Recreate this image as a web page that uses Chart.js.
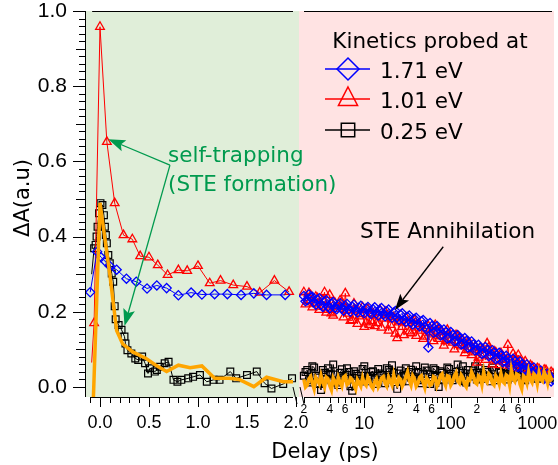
<!DOCTYPE html>
<html>
<head>
<meta charset="utf-8">
<script src="https://cdn.jsdelivr.net/npm/chart.js@4/dist/chart.umd.min.js"></script>
<style>
  html, body { margin: 0; padding: 0; background: #fff; }
  #wrap { position: relative; width: 558px; height: 465px; }
  #wrap canvas { position: absolute; left: 0; top: 0; }
  #graficoCurto { z-index: 2; }
</style>
</head>
<body>
<div id="wrap">
  <canvas id="graficoLongo" width="558" height="465"></canvas>
  <canvas id="graficoCurto" width="558" height="465"></canvas>
</div>
<script>
// 1. DADOS
// Trecho linear (-0.1 a 2 ps)
const atrasoAzulCurto = [-0.10, -0.03, 0.01, 0.05, 0.10, 0.17, 0.27, 0.37, 0.48, 0.58, 0.68, 0.80, 0.93, 1.04, 1.17, 1.30, 1.44, 1.57, 1.70, 1.89];
const azulCurto = [0.252, 0.36, 0.345, 0.335, 0.322, 0.312, 0.288, 0.28, 0.262, 0.27, 0.263, 0.244, 0.251, 0.246, 0.247, 0.247, 0.245, 0.249, 0.245, 0.245];

const atrasoVermelhoCurto = [-0.085, -0.06, 0.00, 0.07, 0.15, 0.24, 0.33, 0.41, 0.50, 0.59, 0.69, 0.80, 0.89, 1.00, 1.12, 1.23, 1.36, 1.50, 1.63, 1.78, 1.93];
const vermelhoCurto = [0.065, 0.17, 0.958, 0.652, 0.489, 0.404, 0.393, 0.348, 0.345, 0.324, 0.298, 0.311, 0.309, 0.322, 0.276, 0.283, 0.271, 0.267, 0.251, 0.283, 0.253];

const atrasoPretoCurto = [-0.085, -0.06, -0.045, -0.035, -0.025, -0.01, 0.005, 0.025, 0.04, 0.05,
  0.06, 0.07, 0.085, 0.10, 0.12, 0.135, 0.15, 0.16, 0.19, 0.22,
  0.25, 0.26, 0.28, 0.32, 0.36, 0.39, 0.43, 0.46, 0.49, 0.51,
  0.56, 0.58, 0.61, 0.66, 0.70, 0.75, 0.79, 0.83, 0.90, 0.95,
  1.02, 1.09, 1.16, 1.22, 1.33, 1.39, 1.50, 1.60, 1.68, 1.75,
  1.87, 1.96];
const pretoCurto = [0.30, 0.369, 0.378, 0.40, 0.426, 0.462, 0.489, 0.484, 0.457, 0.426,
  0.404, 0.382, 0.351, 0.329, 0.302, 0.280, 0.215, 0.180, 0.165, 0.152,
  0.134, 0.116, 0.098, 0.089, 0.076, 0.072, 0.081, 0.063, 0.036, 0.050,
  0.041, 0.045, 0.054, 0.063, 0.067, 0.019, 0.014, 0.019, 0.023, 0.027,
  0.032, 0.014, 0.019, 0.019, 0.041, 0.023, 0.032, 0.041, 0.010, -0.004,
  0.008, 0.023];

const atrasoLaranjaCurto = [-0.07, 0.00, 0.10, 0.17, 0.23, 0.33, 0.47, 0.57, 0.68, 0.80, 0.92, 1.04, 1.17, 1.32, 1.42, 1.57, 1.70, 1.87, 1.97];
const laranjaCurto = [-0.05, 0.49, 0.30, 0.15, 0.115, 0.094, 0.076, 0.058, 0.041, 0.058, 0.051, 0.056, 0.023, 0.023, 0.020, 0.001, 0.026, 0.014, 0.014];

// Trecho logarítmico (2 a 1500 ps), em duas varreduras de atrasos
const atrasoLongoA = [2.0, 2.19, 2.4, 2.63, 2.88, 3.16, 3.47, 3.8, 4.17, 4.57,
  5.01, 5.5, 6.03, 6.61, 7.24, 7.94, 8.71, 9.55, 10.5, 11.5,
  12.6, 13.8, 15.1, 16.6, 18.2, 20.0, 21.9, 24.0, 26.3, 28.8,
  31.6, 34.7, 38.0, 41.7, 45.7, 50.1, 55.0, 60.3, 66.1, 72.4,
  79.4, 87.1, 95.5, 105, 115, 126, 138, 151, 166, 182,
  200, 219, 240, 263, 288, 316, 347, 380, 417, 457,
  501, 550, 603, 661, 724, 794, 871, 955, 1047, 1148,
  1259, 1380, 1514];
const azulLongoA = [0.242, 0.231, 0.238, 0.226, 0.232, 0.219, 0.227, 0.214, 0.222, 0.211,
  0.219, 0.209, 0.216, 0.206, 0.214, 0.203, 0.211, 0.200, 0.209, 0.198,
  0.207, 0.196, 0.204, 0.193, 0.201, 0.190, 0.198, 0.185, 0.192, 0.179,
  0.186, 0.172, 0.181, 0.166, 0.175, 0.160, 0.105, 0.162, 0.148, 0.154,
  0.140, 0.146, 0.131, 0.138, 0.123, 0.130, 0.115, 0.122, 0.107, 0.113,
  0.099, 0.105, 0.091, 0.098, 0.085, 0.091, 0.077, 0.083, 0.069, 0.075,
  0.061, 0.068, 0.054, 0.060, 0.046, 0.052, 0.038, 0.044, 0.030, 0.036,
  0.024, 0.028, 0.020];
const vermelhoLongoA = [0.252, 0.228, 0.244, 0.222, 0.236, 0.214, 0.252, 0.205, 0.196, 0.224,
  0.208, 0.226, 0.249, 0.195, 0.178, 0.204, 0.188, 0.212, 0.172, 0.165,
  0.196, 0.170, 0.205, 0.182, 0.192, 0.165, 0.186, 0.130, 0.176, 0.138,
  0.170, 0.143, 0.178, 0.158, 0.150, 0.134, 0.162, 0.140, 0.165, 0.128,
  0.147, 0.122, 0.140, 0.118, 0.138, 0.112, 0.125, 0.098, 0.116, 0.092,
  0.065, 0.104, 0.085, 0.116, 0.082, 0.095, 0.070, 0.090, 0.066, 0.112,
  0.062, 0.078, 0.085, 0.055, 0.068, 0.045, 0.054, 0.040, 0.048, 0.036,
  0.045, 0.032, 0.036];
const pretoLongoA = [0.030, 0.045, 0.012, 0.052, 0.025, -0.008, 0.038, 0.050, 0.018, 0.033,
  0.005, 0.047, 0.028, 0.040, -0.010, 0.035, 0.022, 0.048, 0.015, 0.030,
  0.042, 0.008, 0.036, 0.025, 0.050, 0.020, 0.038, -0.005, 0.044, 0.030,
  0.015, 0.046, 0.026, 0.040, 0.010, 0.052, 0.034, 0.022, 0.045, 0.000,
  0.038, 0.028, 0.048, 0.018, 0.040, 0.030, 0.055, 0.012, 0.036, 0.044,
  0.020, 0.050, 0.030, 0.040, 0.015, 0.045, 0.025, 0.038, 0.048, 0.020,
  0.034, 0.042, 0.028, 0.050, 0.018, 0.035, 0.040, 0.030, 0.025, 0.038,
  0.030, 0.022, 0.028];
const laranjaLongoA = [0.020, 0.005, 0.028, -0.005, 0.018, 0.030, 0.000, 0.022, -0.008, 0.015,
  0.025, 0.002, 0.030, 0.010, 0.020, -0.006, 0.012, 0.025, 0.004, 0.018,
  -0.004, 0.022, 0.008, 0.028, 0.002, 0.015, 0.032, 0.006, 0.020, 0.012,
  0.040, 0.005, 0.022, 0.010, 0.030, -0.002, 0.018, 0.008, 0.025, 0.012,
  0.035, 0.004, 0.028, 0.014, 0.038, 0.010, 0.025, 0.000, 0.018, 0.030,
  0.008, 0.026, 0.040, 0.012, 0.030, 0.005, 0.022, 0.036, 0.010, 0.028,
  0.045, 0.015, 0.032, -0.005, 0.025, 0.040, 0.012, 0.030, 0.038, 0.015,
  0.028, 0.035, 0.025];

const atrasoLongoB = [2.09, 2.29, 2.51, 2.75, 3.02, 3.31, 3.63, 3.98, 4.37, 4.79,
  5.25, 5.75, 6.31, 6.92, 7.59, 8.32, 9.12, 10.0, 11.0, 12.0,
  13.2, 14.5, 15.8, 17.4, 19.1, 20.9, 22.9, 25.1, 27.5, 30.2,
  33.1, 36.3, 39.8, 43.7, 47.9, 52.5, 57.5, 63.1, 69.2, 75.9,
  83.2, 91.2, 100, 110, 120, 132, 145, 158, 174, 191,
  209, 229, 251, 275, 302, 331, 363, 398, 437, 479,
  525, 575, 631, 692, 759, 832, 912, 1000, 1096, 1202,
  1318, 1445];
const azulLongoB = [0.228, 0.246, 0.240, 0.219, 0.236, 0.213, 0.231, 0.209, 0.226, 0.207,
  0.223, 0.203, 0.221, 0.200, 0.219, 0.198, 0.216, 0.196, 0.213, 0.194,
  0.212, 0.190, 0.210, 0.188, 0.206, 0.184, 0.202, 0.178, 0.196, 0.173,
  0.190, 0.166, 0.184, 0.161, 0.178, 0.153, 0.170, 0.144, 0.162, 0.137,
  0.153, 0.129, 0.146, 0.121, 0.138, 0.113, 0.130, 0.105, 0.121, 0.097,
  0.112, 0.088, 0.106, 0.082, 0.098, 0.074, 0.091, 0.066, 0.083, 0.058,
  0.075, 0.051, 0.068, 0.046, 0.060, 0.037, 0.052, 0.029, 0.044, 0.022,
  0.035, 0.015];
const vermelhoLongoB = [0.220, 0.250, 0.212, 0.240, 0.205, 0.232, 0.198, 0.245, 0.190, 0.214,
  0.230, 0.185, 0.205, 0.176, 0.222, 0.168, 0.194, 0.160, 0.208, 0.175,
  0.162, 0.190, 0.158, 0.200, 0.150, 0.180, 0.142, 0.172, 0.160, 0.185,
  0.148, 0.176, 0.136, 0.168, 0.128, 0.155, 0.145, 0.122, 0.150, 0.135,
  0.110, 0.152, 0.125, 0.100, 0.135, 0.108, 0.090, 0.120, 0.085, 0.108,
  0.078, 0.100, 0.072, 0.105, 0.060, 0.092, 0.058, 0.082, 0.072, 0.056,
  0.088, 0.050, 0.070, 0.062, 0.042, 0.058, 0.035, 0.050, 0.030, 0.046,
  0.028, 0.040];
const pretoLongoB = [0.040, 0.018, 0.055, 0.030, 0.008, 0.045, 0.022, 0.035, 0.060, 0.012,
  0.038, 0.025, 0.050, 0.002, 0.042, 0.030, 0.015, 0.055, 0.028, 0.040,
  0.020, 0.048, 0.032, 0.010, 0.045, 0.058, 0.022, 0.036, 0.015, 0.050,
  0.040, 0.028, 0.055, 0.018, 0.035, 0.044, 0.008, 0.050, 0.030, 0.042,
  0.020, 0.052, 0.035, 0.025, 0.060, 0.030, 0.015, 0.045, 0.028, 0.055,
  0.038, 0.022, 0.045, 0.030, 0.052, 0.018, 0.040, 0.028, 0.035, 0.046,
  0.025, 0.050, 0.032, 0.020, 0.045, 0.030, 0.038, 0.022, 0.042, 0.030,
  0.035, 0.025];
const laranjaLongoB = [0.000, 0.022, 0.010, 0.025, 0.008, 0.012, 0.026, 0.004, 0.024, 0.002,
  0.012, 0.026, 0.006, 0.024, 0.004, 0.020, 0.002, 0.010, 0.026, 0.003,
  0.015, 0.000, 0.024, 0.010, 0.026, 0.005, 0.012, 0.025, 0.002, 0.028,
  0.018, 0.030, 0.002, 0.026, 0.012, 0.024, 0.004, 0.028, 0.002, 0.030,
  0.015, 0.030, 0.005, 0.030, 0.016, 0.032, 0.006, 0.022, 0.040, 0.012,
  0.030, 0.006, 0.018, 0.035, 0.010, 0.030, 0.008, 0.015, 0.032, 0.005,
  0.022, 0.035, 0.008, 0.030, 0.010, 0.020, 0.035, 0.008, 0.020, 0.040,
  0.010, 0.020];

// Eixos
const ticksY = [0, 0.2, 0.4, 0.6, 0.8, 1.0];
const ticksXCurto = [0, 0.5, 1.0, 1.5, 2.0];
const ticksXLongo = [2, 4, 6, 10, 20, 40, 60, 100, 200, 400, 600, 1000];
const decadas = [10, 100, 1000];

const tituloLegenda = 'Kinetics probed at';
const rotulosSeries = ['1.71 eV', '1.01 eV', '0.25 eV'];

const pares = (xs, ys) => xs.map((x, i) => ({ x: x, y: ys[i] }));
// junta as duas varreduras em ordem de atraso
const juntar = (xa, ya, xb, yb) => pares(xa, ya).concat(pares(xb, yb)).sort((p, q) => p.x - q.x);

const AZUL = '#0000ff', VERMELHO = '#ff0000', PRETO = '#000000', LARANJA = '#ffa500', VERDE = '#009a4e';
const FONTE_TEXTO = '"DejaVu Sans", sans-serif';

Chart.defaults.font.family = '"Liberation Sans", Arial, sans-serif';
Chart.defaults.color = '#000';

function seta(ctx, x0, y0, x1, y1, cor, comp, larg) {
    const ang = Math.atan2(y1 - y0, x1 - x0);
    const c = Math.cos(ang), s = Math.sin(ang);
    ctx.strokeStyle = cor;
    ctx.fillStyle = cor;
    ctx.lineWidth = 1.3;
    ctx.beginPath();
    ctx.moveTo(x0, y0);
    ctx.lineTo(x1 - c * comp * 0.8, y1 - s * comp * 0.8);
    ctx.stroke();
    ctx.beginPath();
    ctx.moveTo(x1, y1);
    ctx.lineTo(x1 - comp * c + larg * s, y1 - comp * s - larg * c);
    ctx.lineTo(x1 - comp * c * 0.8, y1 - comp * s * 0.8);
    ctx.lineTo(x1 - comp * c - larg * s, y1 - comp * s + larg * c);
    ctx.closePath();
    ctx.fill();
}

function marcador(ctx, tipo, cx, cy, r) {
    ctx.beginPath();
    if (tipo === 'losango') {
        ctx.moveTo(cx - r, cy); ctx.lineTo(cx, cy - r); ctx.lineTo(cx + r, cy); ctx.lineTo(cx, cy + r);
        ctx.closePath();
    } else if (tipo === 'triangulo') {
        ctx.moveTo(cx, cy - r); ctx.lineTo(cx + r * 0.87, cy + r * 0.5 + 2); ctx.lineTo(cx - r * 0.87, cy + r * 0.5 + 2);
        ctx.closePath();
    } else {
        ctx.rect(cx - r, cy - r, 2 * r, 2 * r);
    }
    ctx.stroke();
}

// 2. DECORAÇÃO (fundo, eixos estilo Igor, anotações)
const decoracaoCurto = {
    id: 'decoracaoCurto',
    beforeDraw(chart) {
        const { ctx, chartArea: a } = chart;
        ctx.save();
        ctx.fillStyle = '#e0eed9';
        ctx.fillRect(a.left, a.top, a.right - a.left, a.bottom - a.top);
        ctx.restore();
    },
    afterDraw(chart) {
        const { ctx, chartArea: a, scales: { x, y } } = chart;
        ctx.save();
        ctx.strokeStyle = '#000';
        ctx.lineWidth = 1;
        ctx.beginPath();
        ctx.moveTo(a.left + 0.5, a.top);
        ctx.lineTo(a.left + 0.5, a.bottom);
        for (let i = 0; i <= 50; i++) {
            const py = Math.round(y.getPixelForValue(i / 50)) + 0.5;
            const tam = i % 10 === 0 ? 12 : (i % 5 === 0 ? 9 : 6);
            ctx.moveTo(a.left, py);
            ctx.lineTo(a.left - tam, py);
        }
        const xIni = x.getPixelForValue(-0.1);
        const xFim = a.right - 6;
        ctx.moveTo(xIni, a.bottom + 0.5); ctx.lineTo(xFim, a.bottom + 0.5);
        ctx.moveTo(x.getPixelForValue(-0.08), a.top + 0.5); ctx.lineTo(xFim, a.top + 0.5);
        for (let i = -1; i <= 20; i++) {
            const px = Math.round(x.getPixelForValue(i / 10)) + 0.5;
            const tam = i % 5 === 0 ? 10 : 6;
            ctx.moveTo(px, a.bottom); ctx.lineTo(px, a.bottom + tam);
        }
        // marcas de quebra do eixo
        ctx.moveTo(a.right - 6, a.bottom - 10); ctx.lineTo(a.right - 2, a.bottom + 7);
        ctx.moveTo(a.right + 1, a.bottom - 10); ctx.lineTo(a.right + 5, a.bottom + 7);
        ctx.stroke();

        // setas verdes
        const ox = x.getPixelForValue(0.714), oy = y.getPixelForValue(0.590);
        seta(ctx, ox, oy, x.getPixelForValue(0.085), y.getPixelForValue(0.659), VERDE, 17, 6);
        seta(ctx, ox, oy, x.getPixelForValue(0.25), y.getPixelForValue(0.162), VERDE, 17, 6);

        ctx.fillStyle = VERDE;
        ctx.font = '21.5px ' + FONTE_TEXTO;
        ctx.textAlign = 'left';
        ctx.textBaseline = 'alphabetic';
        ctx.fillText('self-trapping', 168, 162);
        ctx.fillText('(STE formation)', 168, 191);

        // títulos dos eixos
        ctx.fillStyle = '#000';
        ctx.font = '21px ' + FONTE_TEXTO;
        ctx.textAlign = 'center';
        ctx.fillText('Delay (ps)', 325, 458);
        ctx.save();
        ctx.translate(24, 198);
        ctx.rotate(-Math.PI / 2);
        ctx.textBaseline = 'middle';
        ctx.fillText('ΔA(a.u)', 0, 0);
        ctx.restore();
        ctx.restore();
    }
};

const decoracaoLongo = {
    id: 'decoracaoLongo',
    beforeDraw(chart) {
        const { ctx, chartArea: a } = chart;
        ctx.save();
        ctx.fillStyle = '#ffe3e3';
        ctx.fillRect(a.left, a.top, a.right - a.left, a.bottom - a.top);
        ctx.restore();
    },
    afterDraw(chart) {
        const { ctx, chartArea: a, scales: { x, y } } = chart;
        ctx.save();
        ctx.strokeStyle = '#000';
        ctx.lineWidth = 1;
        ctx.beginPath();
        ctx.moveTo(a.left + 6, a.bottom + 0.5); ctx.lineTo(a.right - 3, a.bottom + 0.5);
        ctx.moveTo(a.left + 5, a.top + 0.5); ctx.lineTo(a.right - 2, a.top + 0.5);
        decadas.forEach(dec => {
            for (let m = 1; m <= 9; m++) {
                const v = m * dec / 10;
                if (v < 2 || v > 1000) continue;
                const px = Math.round(x.getPixelForValue(v)) + 0.5;
                const tam = m === 1 ? 11 : 6;
                ctx.moveTo(px, a.bottom); ctx.lineTo(px, a.bottom + tam);
            }
        });
        ctx.stroke();

        // legenda
        ctx.font = '21.5px ' + FONTE_TEXTO;
        ctx.fillStyle = '#000';
        ctx.textAlign = 'center';
        ctx.fillText(tituloLegenda, 430, 47.5);
        const linhas = [
            { cor: AZUL, tipo: 'losango', r: 11, y: 69 },
            { cor: VERMELHO, tipo: 'triangulo', r: 11, y: 99 },
            { cor: PRETO, tipo: 'quadrado', r: 6.7, y: 130 }
        ];
        ctx.textAlign = 'left';
        linhas.forEach((l, i) => {
            ctx.strokeStyle = l.cor;
            ctx.lineWidth = 1.5;
            ctx.beginPath();
            ctx.moveTo(325, l.y); ctx.lineTo(370, l.y);
            ctx.stroke();
            marcador(ctx, l.tipo, 348, l.tipo === 'triangulo' ? l.y - 1 : l.y, l.r);
            ctx.fillStyle = '#000';
            ctx.fillText(rotulosSeries[i], 380, l.y + 8.5);
        });

        // anotação de aniquilação
        ctx.fillText('STE Annihilation', 360, 238);
        seta(ctx, x.getPixelForValue(81.8), y.getPixelForValue(0.373), x.getPixelForValue(22.6), y.getPixelForValue(0.205), '#000', 16, 5.5);
        ctx.restore();
    }
};

// 3. ESTILOS DAS SÉRIES
function serieLaranja(dados) {
    return { label: 'fit', data: dados, borderColor: LARANJA, borderWidth: 3.5, pointRadius: 0 };
}
function serieAzul(dados) {
    return { label: rotulosSeries[0], data: dados, borderColor: AZUL, borderWidth: 1, pointStyle: 'rectRot',
        pointRadius: 4.6, pointBorderWidth: 1.3, pointBorderColor: AZUL, pointBackgroundColor: 'rgba(0,0,0,0)' };
}
function serieVermelha(dados, semPrimeiro) {
    return { label: rotulosSeries[1], data: dados, borderColor: VERMELHO, borderWidth: 1, pointStyle: 'triangle',
        pointRadius: c => (semPrimeiro && c.dataIndex === 0) ? 0 : 5,
        pointBorderWidth: 1.3, pointBorderColor: VERMELHO, pointBackgroundColor: 'rgba(0,0,0,0)' };
}
function seriePreta(dados, semPrimeiro) {
    return { label: rotulosSeries[2], data: dados, borderColor: PRETO, borderWidth: 1, pointStyle: 'rect',
        pointRadius: c => (semPrimeiro && c.dataIndex === 0) ? 0 : 4.8,
        pointBorderWidth: 1.2, pointBorderColor: PRETO, pointBackgroundColor: 'rgba(0,0,0,0)' };
}

const eixoYBase = {
    type: 'linear',
    min: -0.0266,
    max: 1.0,
    grid: { display: false, drawTicks: false },
    border: { display: false },
    afterBuildTicks: s => { s.ticks = ticksY.map(v => ({ value: v })); }
};

const opcoesBase = {
    responsive: false,
    animation: false,
    devicePixelRatio: 1,
    events: [],
    plugins: { legend: { display: false }, tooltip: { enabled: false } }
};

// 4. GRÁFICO DA ESCALA LOGARÍTMICA (direita)
const graficoLongo = new Chart(document.getElementById('graficoLongo').getContext('2d'), {
    type: 'line',
    data: {
        datasets: [
            serieLaranja(juntar(atrasoLongoA, laranjaLongoA, atrasoLongoB, laranjaLongoB)),
            serieAzul(juntar(atrasoLongoA, azulLongoA, atrasoLongoB, azulLongoB)),
            serieVermelha(juntar(atrasoLongoA, vermelhoLongoA, atrasoLongoB, vermelhoLongoB), false),
            seriePreta(juntar(atrasoLongoA, pretoLongoA, atrasoLongoB, pretoLongoB), false)
        ]
    },
    options: {
        ...opcoesBase,
        layout: { autoPadding: false, padding: { top: 11, left: 299, right: 4, bottom: 0 } },
        scales: {
            x: {
                type: 'logarithmic',
                min: 1.758,
                max: 1560,
                grid: { display: false, drawTicks: false },
                border: { display: false },
                afterBuildTicks: s => { s.ticks = ticksXLongo.map(v => ({ value: v })); },
                afterFit: s => { s.height = 68; s.paddingLeft = 0; s.paddingRight = 0; },
                ticks: {
                    autoSkip: false,
                    maxRotation: 0,
                    minRotation: 0,
                    padding: 5,
                    font: c => decadas.includes(c.tick.value)
                        ? { size: 18, lineHeight: 0.815 }
                        : { size: 12, lineHeight: 1.2 },
                    callback: v => {
                        if (decadas.includes(v)) return ['', String(v)];
                        const d = Math.pow(10, Math.floor(Math.log10(v) + 1e-9));
                        return String(Math.round(v / d));
                    }
                }
            },
            y: { ...eixoYBase, display: false }
        }
    },
    plugins: [decoracaoLongo]
});

// 5. GRÁFICO DA ESCALA LINEAR (esquerda, por cima)
const graficoCurto = new Chart(document.getElementById('graficoCurto').getContext('2d'), {
    type: 'line',
    data: {
        datasets: [
            serieLaranja(pares(atrasoLaranjaCurto, laranjaCurto)),
            serieAzul(pares(atrasoAzulCurto, azulCurto)),
            serieVermelha(pares(atrasoVermelhoCurto, vermelhoCurto), true),
            seriePreta(pares(atrasoPretoCurto, pretoCurto), true)
        ]
    },
    options: {
        ...opcoesBase,
        layout: { autoPadding: false, padding: { top: 11, left: 0, right: 259, bottom: 0 } },
        scales: {
            x: {
                type: 'linear',
                min: -0.153,
                max: 2.031,
                grid: { display: false, drawTicks: false },
                border: { display: false },
                afterBuildTicks: s => { s.ticks = ticksXCurto.map(v => ({ value: v })); },
                afterFit: s => { s.height = 68; s.paddingLeft = 0; s.paddingRight = 0; },
                ticks: { autoSkip: false, maxRotation: 0, minRotation: 0, padding: 15,
                    font: { size: 18 }, callback: v => v.toFixed(1) }
            },
            y: {
                ...eixoYBase,
                afterFit: s => { s.width = 85; s.paddingTop = 0; s.paddingBottom = 0; },
                ticks: { padding: 18, font: { size: 21 }, callback: v => v.toFixed(1) }
            }
        }
    },
    plugins: [decoracaoCurto]
});
</script>
</body>
</html>
